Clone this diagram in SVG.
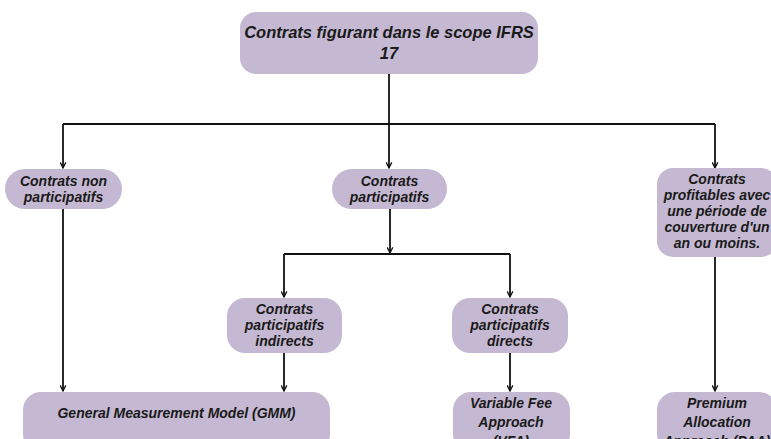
<svg xmlns="http://www.w3.org/2000/svg" width="771" height="439" viewBox="0 0 771 439">
  <style>
    .box { fill: #c5b8d2; }
    .lbl { font-family: "Liberation Sans", Arial, sans-serif; font-weight: bold; font-style: italic; font-size: 14px; fill: #1a1a1a; text-anchor: middle; }
    .title { font-size: 16.5px; }
    .wire { fill: none; stroke: #111; stroke-width: 1.8; }
    .arr { marker-end: url(#tip); }
  </style>
  <defs>
    <marker id="tip" viewBox="0 0 10 10" refX="9" refY="5" markerWidth="7" markerHeight="7" markerUnits="userSpaceOnUse" orient="auto">
      <path d="M1,1 L9,5 L1,9" fill="none" stroke="#111" stroke-width="1.8"/>
    </marker>
  </defs>

  <!-- connectors -->
  <g id="connectors">
    <path class="wire" d="M389,74 V124"/>
    <path class="wire" d="M63,124 H715"/>
    <path class="wire arr" d="M63,124 V168"/>
    <path class="wire arr" d="M389,124 V168"/>
    <path class="wire arr" d="M715,124 V168"/>
    <path class="wire arr" d="M390,209 V253"/>
    <path class="wire" d="M284,254 H510"/>
    <path class="wire arr" d="M284,254 V297"/>
    <path class="wire arr" d="M510,254 V297"/>
    <path class="wire arr" d="M63,209 V391"/>
    <path class="wire arr" d="M284,353 V391"/>
    <path class="wire arr" d="M510,353 V391"/>
    <path class="wire arr" d="M715,257 V391"/>
  </g>

  <!-- root -->
  <g id="scope">
    <rect class="box" x="240" y="12" width="298" height="62" rx="16"/>
    <text class="lbl title" x="389" y="38">Contrats figurant dans le scope IFRS</text>
    <text class="lbl title" x="389" y="59">17</text>
  </g>

  <g id="non-participatifs">
    <rect class="box" x="5" y="169" width="117" height="40" rx="20"/>
    <text class="lbl" x="63.5" y="186">Contrats non</text>
    <text class="lbl" x="63.5" y="202">participatifs</text>
  </g>

  <g id="participatifs">
    <rect class="box" x="332" y="169" width="115" height="40" rx="20"/>
    <text class="lbl" x="389.5" y="186">Contrats</text>
    <text class="lbl" x="389.5" y="202">participatifs</text>
  </g>

  <g id="profitables">
    <rect class="box" x="657" y="168" width="120" height="89" rx="16"/>
    <text class="lbl" x="717" y="184">Contrats</text>
    <text class="lbl" x="717" y="200">profitables avec</text>
    <text class="lbl" x="717" y="216">une période de</text>
    <text class="lbl" x="717" y="232">couverture d'un</text>
    <text class="lbl" x="717" y="248">an ou moins.</text>
  </g>

  <g id="indirects">
    <rect class="box" x="227" y="298" width="115" height="55" rx="18"/>
    <text class="lbl" x="284.5" y="314">Contrats</text>
    <text class="lbl" x="284.5" y="330">participatifs</text>
    <text class="lbl" x="284.5" y="346">indirects</text>
  </g>

  <g id="directs">
    <rect class="box" x="452" y="298" width="116" height="55" rx="18"/>
    <text class="lbl" x="510" y="314">Contrats</text>
    <text class="lbl" x="510" y="330">participatifs</text>
    <text class="lbl" x="510" y="346">directs</text>
  </g>

  <g id="gmm">
    <rect class="box" x="23" y="392" width="307" height="60" rx="18"/>
    <text class="lbl" x="176.5" y="418">General Measurement Model (GMM)</text>
  </g>

  <!-- bottom-row labels run past the lower edge of the canvas -->
  <g id="vfa">
    <rect class="box" x="453" y="392" width="117" height="60" rx="18"/>
    <text class="lbl" x="511" y="408">Variable Fee</text>
    <text class="lbl" x="511" y="427">Approach</text>
    <text class="lbl" x="511" y="446">(VFA)</text>
  </g>

  <g id="paa">
    <rect class="box" x="657" y="392" width="120" height="60" rx="18"/>
    <text class="lbl" x="717" y="408">Premium</text>
    <text class="lbl" x="717" y="427">Allocation</text>
    <text class="lbl" x="717" y="446">Approach (PAA)</text>
  </g>
</svg>
